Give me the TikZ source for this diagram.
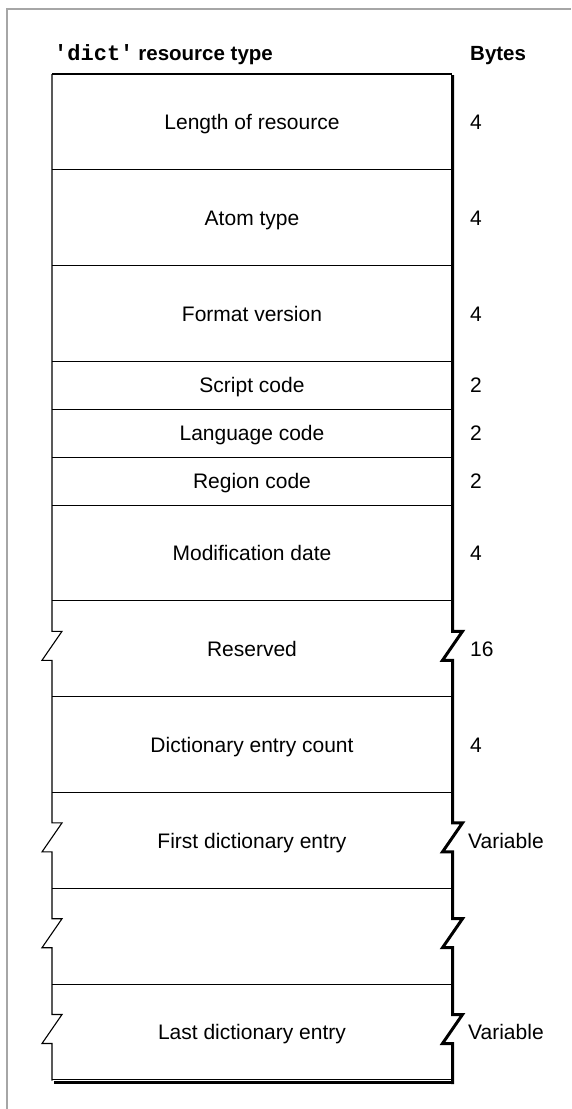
\documentclass[tikz,border=0pt]{standalone}
\usepackage{fontspec}
\setmainfont{Liberation Sans}
\newfontfamily\codefont{Liberation Mono}[BoldFont={Liberation Mono Bold}]
\begin{document}
\begin{tikzpicture}[x=1pt,y=-1pt,
  frame/.style={draw=black!35, line width=1.2pt},
  thinline/.style={draw=black, line width=1.1pt, line join=miter},
  shadowline/.style={draw=black, line width=3pt, line join=miter},
  lbl/.style={anchor=base, inner sep=0pt, font=\fontsize{21}{24}\selectfont},
  num/.style={anchor=base west, inner sep=0pt, font=\fontsize{21}{24}\selectfont},
  head/.style={anchor=base west, inner sep=0pt, font=\fontsize{20.5}{24}\selectfont\bfseries}]
\useasboundingbox (0,0) rectangle (571,1109);
% outer gray frame
\draw[frame] (7,1109) -- (7,9) -- (571,9);
% headings
\node[head] (title) at (54,60) {{\codefont\bfseries\fontsize{22}{24}\selectfont 'dict'}\hspace{5pt}resource type};
\node[head] (bytes) at (470,60) {Bytes};
% horizontal separators
\foreach \y in {74,169.8,265.6,361.4,409.3,457.2,505.1,600.9,696.7,792.5,888.3,984.1,1079.9}
  \draw[thinline] (52,\y) -- (452,\y);
% left edge with breaks
\draw[thinline] (52,74) -- (52,631.3) -- (62,631.3) -- (42,660.3) -- (52,660.3)
  -- (52,822.9) -- (62,822.9) -- (42,851.9) -- (52,851.9)
  -- (52,918.7) -- (62,918.7) -- (42,947.7) -- (52,947.7)
  -- (52,1014.5) -- (62,1014.5) -- (42,1043.5) -- (52,1043.5) -- (52,1080.5);
% right edge (shadowed) with breaks
\draw[shadowline] (452.5,75) -- (452.5,631.3) -- (462.5,631.3) -- (442.5,660.3) -- (452.5,660.3)
  -- (452.5,822.9) -- (462.5,822.9) -- (442.5,851.9) -- (452.5,851.9)
  -- (452.5,918.7) -- (462.5,918.7) -- (442.5,947.7) -- (452.5,947.7)
  -- (452.5,1014.5) -- (462.5,1014.5) -- (442.5,1043.5) -- (452.5,1043.5) -- (452.5,1084);
% bottom shadow
\draw[draw=black, line width=3.5pt] (54,1082.5) -- (454,1082.5);
% row labels
\node[lbl] (r1) at (252,129.5) {Length of resource};
\node[lbl] (r2) at (252,225.3) {Atom type};
\node[lbl] (r3) at (252,321.1) {Format version};
\node[lbl] (r4) at (252,392.9) {Script code};
\node[lbl] (r5) at (252,440.8) {Language code};
\node[lbl] (r6) at (252,488.7) {Region code};
\node[lbl] (r7) at (252,560.6) {Modification date};
\node[lbl] (r8) at (252,656.4) {Reserved};
\node[lbl] (r9) at (252,752.2) {Dictionary entry count};
\node[lbl] (r10) at (252,848.0) {First dictionary entry};
\node[lbl] (r12) at (252,1039.6) {Last dictionary entry};
% byte counts
\node[num] (b1) at (470,129.5) {4};
\node[num] (b2) at (470,225.3) {4};
\node[num] (b3) at (470,321.1) {4};
\node[num] (b4) at (470,392.9) {2};
\node[num] (b5) at (470,440.8) {2};
\node[num] (b6) at (470,488.7) {2};
\node[num] (b7) at (470,560.6) {4};
\node[num] (b8) at (470,656.4) {16};
\node[num] (b9) at (470,752.2) {4};
\node[num] (b10) at (468,848.0) {Variable};
\node[num] (b12) at (468,1039.6) {Variable};
\end{tikzpicture}
\end{document}
